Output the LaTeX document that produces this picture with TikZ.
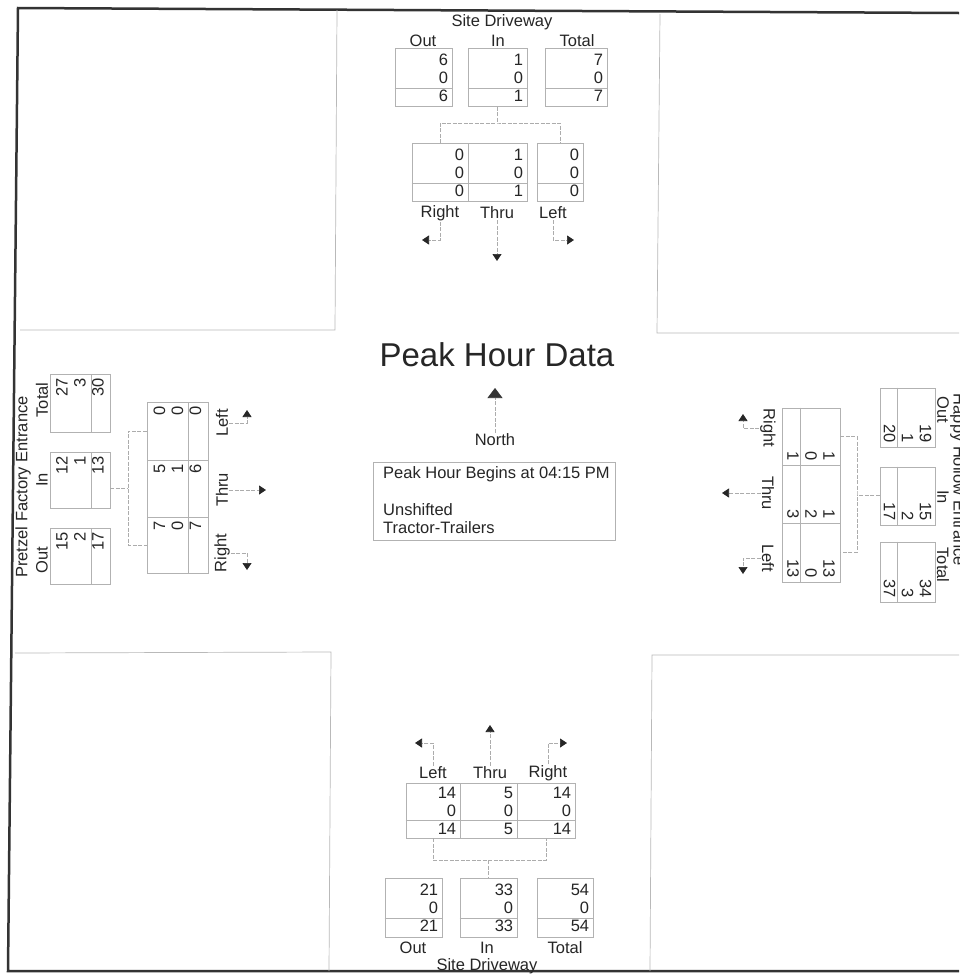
\documentclass[tikz,border=0pt]{standalone}
\usepackage{fontspec}
\setmainfont{Liberation Sans}
\usetikzlibrary{arrows.meta,calc}
\tikzset{
  lbl/.style={text=black!85, font=\fontsize{16.5}{18}\selectfont, inner sep=1pt},
  numst/.style={text=black!85, font=\fontsize{16.5}{18}\selectfont, inner sep=0pt, align=right},
  boxst/.style={draw=gray!60, line width=0.6pt, rectangle, inner sep=0pt, minimum width=57pt, minimum height=58pt},
  boxln/.style={draw=gray!60, line width=0.6pt},
  conn/.style={draw=gray!65, line width=0.6pt, dash pattern=on 4pt off 1.5pt},
  arr/.style={conn, -{Triangle[width=9pt,length=7pt,color=black!85]}},
  quad/.style={draw=gray!55, line width=0.7pt},
  frame/.style={draw=black!80, line width=2.5pt, line join=miter}
}
\newcommand\trafbox[7]{%
  \node[boxst, rotate=#3, #4] (#1) at #2 {};
  \node[numst, rotate=#3, anchor=east] (#1v) at ($(#1.east)!4pt!(#1.west)$) {#5\\#6\\#7};
  \draw[boxln] ($(#1.south west)!0.32!(#1.north west)$) -- ($(#1.south east)!0.32!(#1.north east)$);
}
\begin{document}
\begin{tikzpicture}[x=1pt,y=-1pt]
\useasboundingbox (0,0) rectangle (959,975);
\clip (0,0) rectangle (959,975);
\fill[white] (0,0) rectangle (959,975);

% frame and quadrants
\draw[frame] (959,13) -- (18,8) -- (8,971) -- (959,971);
\draw[quad] (337,10) -- (335,330) -- (20,330);
\draw[quad] (660,14) -- (657,333) -- (959,333);
\draw[quad] (15,653) -- (331,652) -- (329,971);
\draw[quad] (959,655) -- (652,655) -- (650,971);

% ---------- top (Site Driveway) ----------
\node[lbl] (sTitle) at (502,22) {Site Driveway};
\node[lbl] (sOutL) at (423,41) {Out};
\node[lbl] (sInL) at (498,41) {In};
\node[lbl] (sTotL) at (577,41) {Total};
\trafbox{sOut}{(423.5,77.5)}{0}{minimum width=57pt}{6}{0}{6}
\trafbox{sIn}{(497.5,77.5)}{0}{minimum width=59pt}{1}{0}{1}
\trafbox{sTot}{(576,77.5)}{0}{minimum width=62pt}{7}{0}{7}
\trafbox{sR}{(440,172.5)}{0}{minimum width=56pt}{0}{0}{0}
\trafbox{sT}{(497.5,172.5)}{0}{minimum width=59pt}{1}{0}{1}
\trafbox{sL}{(560,172.5)}{0}{minimum width=46pt}{0}{0}{0}
\coordinate (sJ) at (497.5,123);
\draw[conn] (sIn.south) -- (sJ);
\draw[conn] (sR.north) |- (sJ) -| (sL.north);
\node[lbl] (sRL) at (440,213) {Right};
\node[lbl] (sTL) at (497,213) {Thru};
\node[lbl] (sLL) at (553,213) {Left};
\coordinate (sRa) at (422,240);
\coordinate (sTa) at (497,261);
\coordinate (sLa) at (574,240);
\draw[arr] (sRL.south) |- (sRa);
\draw[arr] (sTL.south) -- (sTa);
\draw[arr] (sLL.south) |- (sLa);

% ---------- left (Pretzel Factory Entrance) ----------
\node[lbl, rotate=90] (wTitle) at (23,487) {Pretzel Factory Entrance};
\node[lbl, rotate=90] (wOutL) at (42,560) {Out};
\node[lbl, rotate=90] (wInL) at (42,480) {In};
\node[lbl, rotate=90] (wTotL) at (42,400) {Total};
\trafbox{wOut}{(80,556)}{90}{minimum width=56pt, minimum height=60pt}{15}{2}{17}
\trafbox{wIn}{(80,480)}{90}{minimum width=56pt, minimum height=60pt}{12}{1}{13}
\trafbox{wTot}{(80,403)}{90}{minimum width=58pt, minimum height=60pt}{27}{3}{30}
\trafbox{wL}{(177.5,431)}{90}{minimum width=58pt, minimum height=61pt}{0}{0}{0}
\trafbox{wT}{(177.5,488.5)}{90}{minimum width=57pt, minimum height=61pt}{5}{1}{6}
\trafbox{wR}{(177.5,545)}{90}{minimum width=56pt, minimum height=61pt}{7}{0}{7}
\coordinate (wJ) at (128,488);
\draw[conn] (wIn.south |- wJ) -- (wJ);
\draw[conn] (wL.north) -| (wJ) |- (wR.north);
\node[lbl, rotate=90] (wLL) at (222,423) {Left};
\node[lbl, rotate=90] (wTL) at (222,490) {Thru};
\node[lbl, rotate=90] (wRL) at (222,553) {Right};
\coordinate (wLa) at (247,410);
\coordinate (wTa) at (266,490);
\coordinate (wRa) at (247,570);
\draw[arr] (wLL.south) -| (wLa);
\draw[arr] (wTL.south) -- (wTa);
\draw[arr] (wRL.south) -| (wRa);

% ---------- right (Happy Hollow Entrance) ----------
\node[lbl, rotate=-90] (eTitle) at (958,480) {Happy Hollow Entrance};
\node[lbl, rotate=-90] (eOutL) at (943,410) {Out};
\node[lbl, rotate=-90] (eInL) at (943,497) {In};
\node[lbl, rotate=-90] (eTotL) at (943,565) {Total};
\trafbox{eOut}{(907.5,417.5)}{-90}{minimum width=59pt, minimum height=55pt}{19}{1}{20}
\trafbox{eIn}{(907.5,496)}{-90}{minimum width=58pt, minimum height=55pt}{15}{2}{17}
\trafbox{eTot}{(907.5,572)}{-90}{minimum width=60pt, minimum height=55pt}{34}{3}{37}
\trafbox{eR}{(811,436.5)}{-90}{minimum width=57pt, minimum height=58pt}{1}{0}{1}
\trafbox{eT}{(811,494)}{-90}{minimum width=58pt, minimum height=58pt}{1}{2}{3}
\trafbox{eL}{(811,552.5)}{-90}{minimum width=59pt, minimum height=58pt}{13}{0}{13}
\coordinate (eJ) at (857,495);
\draw[conn] (eIn.south |- eJ) -- (eJ);
\draw[conn] (eR.north) -| (eJ) |- (eL.north);
\node[lbl, rotate=-90] (eRL) at (768,428) {Right};
\node[lbl, rotate=-90] (eTL) at (768,493) {Thru};
\node[lbl, rotate=-90] (eLL) at (768,558) {Left};
\coordinate (eRa) at (743,414);
\coordinate (eTa) at (722,493);
\coordinate (eLa) at (743,574);
\draw[arr] (eRL.south) -| (eRa);
\draw[arr] (eTL.south) -- (eTa);
\draw[arr] (eLL.south) -| (eLa);

% ---------- bottom (Site Driveway) ----------
\node[lbl] (nLL) at (433,773) {Left};
\node[lbl] (nTL) at (490,773) {Thru};
\node[lbl] (nRL) at (548,773) {Right};
\coordinate (nLa) at (415,743);
\coordinate (nTa) at (490,725);
\coordinate (nRa) at (567,743);
\draw[arr] (nLL.north) |- (nLa);
\draw[arr] (nTL.north) -- (nTa);
\draw[arr] (nRL.north) |- (nRa);
\trafbox{nL}{(433,810.5)}{0}{minimum width=54pt, minimum height=55pt}{14}{0}{14}
\trafbox{nT}{(488.5,810.5)}{0}{minimum width=57pt, minimum height=55pt}{5}{0}{5}
\trafbox{nR}{(546,810.5)}{0}{minimum width=58pt, minimum height=55pt}{14}{0}{14}
\trafbox{nOut}{(413.5,907.5)}{0}{minimum width=57pt, minimum height=59pt}{21}{0}{21}
\trafbox{nIn}{(488.5,907.5)}{0}{minimum width=57pt, minimum height=59pt}{33}{0}{33}
\trafbox{nTot}{(565,907.5)}{0}{minimum width=56pt, minimum height=59pt}{54}{0}{54}
\coordinate (nJ) at (488.5,860);
\draw[conn] (nL.south) |- (nJ) -| (nR.south);
\draw[conn] (nJ) -- (nIn.north);
\node[lbl] (nOutL) at (413,948) {Out};
\node[lbl] (nInL) at (487,948) {In};
\node[lbl] (nTotL) at (565,948) {Total};
\node[lbl] (nTitle) at (487,966) {Site Driveway};

% ---------- centre ----------
\node[text=black!85, font=\fontsize{33}{36}\selectfont, inner sep=0pt] (title) at (497,355) {Peak Hour Data};
\coordinate (nTip) at (495,388);
\node[lbl] (northL) at (495,440) {North};
\draw[conn, -{Triangle[width=15pt,length=10pt,color=black!80]}] (northL.north) -- (nTip);
\node[draw=gray!60, line width=0.6pt, minimum width=242pt, minimum height=78pt, inner sep=0pt] (info) at (494,501) {};
\node[lbl, anchor=north west, align=left] (infotxt) at (382,465) {Peak Hour Begins at 04:15 PM\\[19pt]Unshifted\\Tractor-Trailers};
\end{tikzpicture}
\end{document}
